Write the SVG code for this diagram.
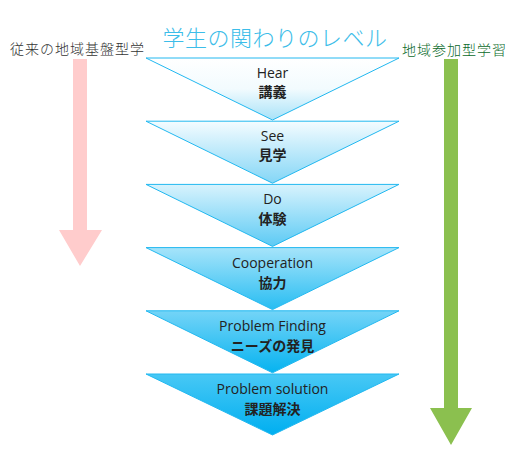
<svg xmlns="http://www.w3.org/2000/svg" width="530" height="460" viewBox="0 0 530 460">
<defs>
<linearGradient id="g1" x1="0" y1="0" x2="0" y2="1"><stop offset="0" stop-color="#ffffff"/><stop offset="0.5" stop-color="#f2fbfe"/><stop offset="1" stop-color="#a8e2f8"/></linearGradient>
<linearGradient id="g2" x1="0" y1="0" x2="0" y2="1"><stop offset="0" stop-color="#f4fcff"/><stop offset="1" stop-color="#84d6f6"/></linearGradient>
<linearGradient id="g3" x1="0" y1="0" x2="0" y2="1"><stop offset="0" stop-color="#d8f3fd"/><stop offset="1" stop-color="#5ccaf4"/></linearGradient>
<linearGradient id="g4" x1="0" y1="0" x2="0" y2="1"><stop offset="0" stop-color="#a6e4fa"/><stop offset="1" stop-color="#28bdf2"/></linearGradient>
<linearGradient id="g5" x1="0" y1="0" x2="0" y2="1"><stop offset="0" stop-color="#74d4f7"/><stop offset="1" stop-color="#06b3f0"/></linearGradient>
<linearGradient id="g6" x1="0" y1="0" x2="0" y2="1"><stop offset="0" stop-color="#48c8f5"/><stop offset="1" stop-color="#00aff0"/></linearGradient>
</defs>
<style>
.tri{stroke:#22b8f0;stroke-width:1;stroke-linejoin:miter}
.en{font-family:"Open Sans","Noto Sans",sans-serif;font-size:14px;fill:#222;text-anchor:middle}
.jp{font-family:"Noto Sans CJK JP",sans-serif;font-size:14px;font-weight:bold;fill:#222;text-anchor:middle}
.side{font-family:"Noto Sans CJK JP",sans-serif;font-size:14px;font-weight:300;letter-spacing:1px}
</style>
<text x="275" y="46" font-family="Noto Sans CJK JP,sans-serif" font-size="22" font-weight="300" letter-spacing="0.5" fill="#3cbde9" text-anchor="middle">学生の関わりのレベル</text>
<text class="side" x="10" y="54" fill="#333">従来の地域基盤型学</text>
<text class="side" x="402" y="55" fill="#0a6a2a">地域参加型学習</text>
<g id="arrows">
<polygon points="73,59 87,59 87,230 102,230 80,266 59,230 73,230" fill="#ffcccc"/>
<polygon points="444,59 458,59 458,408 472,408 451,445 430,408 444,408" fill="#8bc04f"/>
</g>
<g id="n1"><polygon class="tri" points="146,58 399,58 272.5,120" fill="url(#g1)"/><text class="en" x="272.5" y="78">Hear</text><text class="jp" x="272.5" y="97">講義</text></g>
<g id="n2"><polygon class="tri" points="146,121.2 399,121.2 272.5,183.2" fill="url(#g2)"/><text class="en" x="272.5" y="141">See</text><text class="jp" x="272.5" y="160">見学</text></g>
<g id="n3"><polygon class="tri" points="146,184.4 399,184.4 272.5,246.4" fill="url(#g3)"/><text class="en" x="272.5" y="204">Do</text><text class="jp" x="272.5" y="224">体験</text></g>
<g id="n4"><polygon class="tri" points="146,247.6 399,247.6 272.5,309.6" fill="url(#g4)"/><text class="en" x="272.5" y="268">Cooperation</text><text class="jp" x="272.5" y="288">協力</text></g>
<g id="n5"><polygon class="tri" points="146,310.8 399,310.8 272.5,372.8" fill="url(#g5)"/><text class="en" x="272.5" y="331">Problem Finding</text><text class="jp" x="272.5" y="351">ニーズの発見</text></g>
<g id="n6"><polygon class="tri" points="146,374 399,374 272.5,435" fill="url(#g6)"/><text class="en" x="272.5" y="394">Problem solution</text><text class="jp" x="272.5" y="414">課題解決</text></g>
</svg>
